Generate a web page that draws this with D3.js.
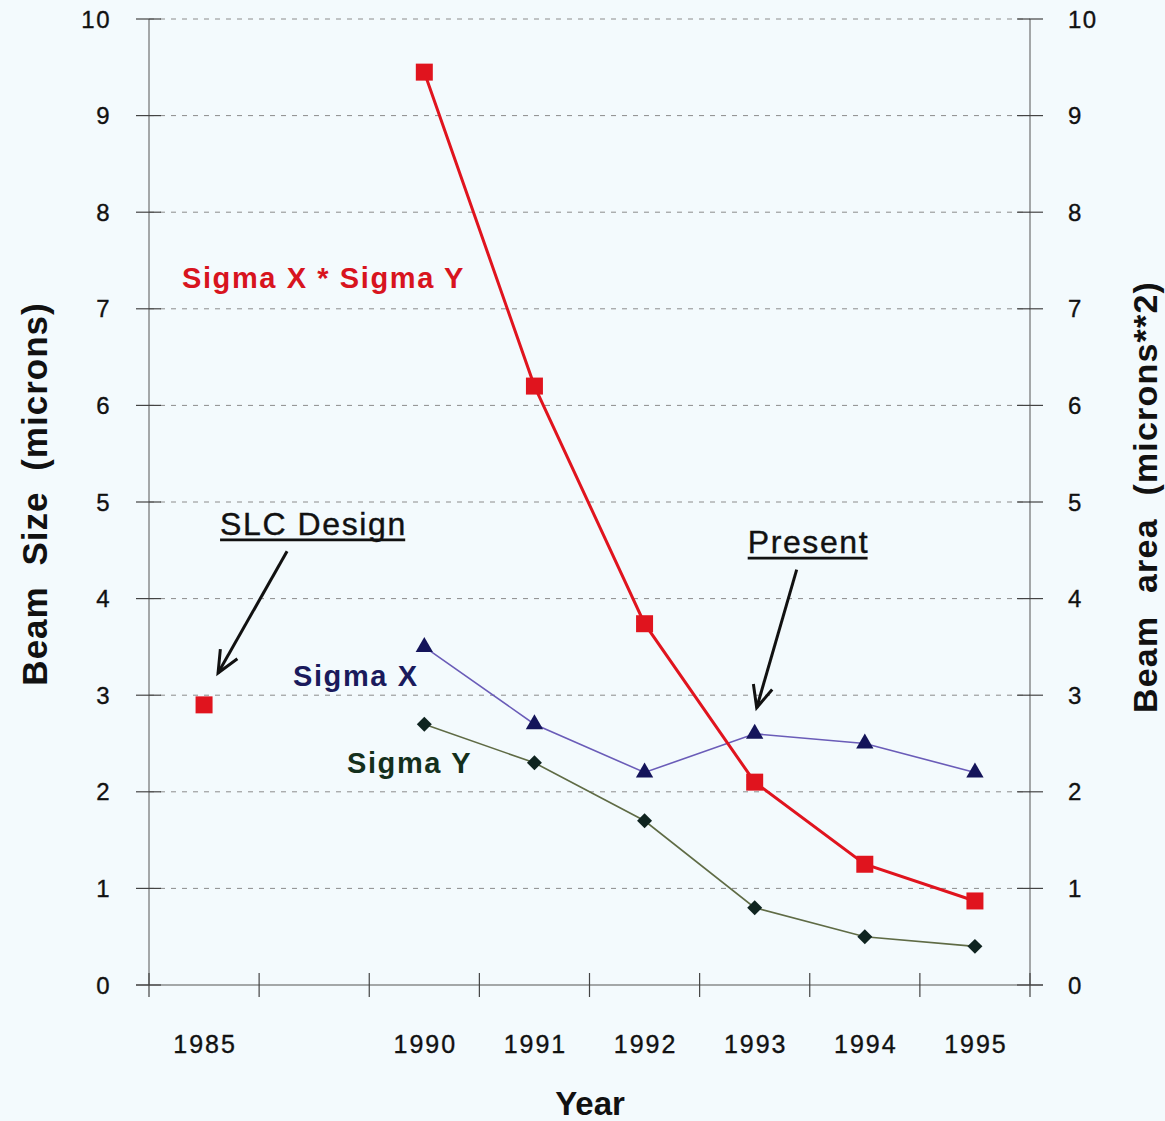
<!DOCTYPE html>
<html>
<head>
<meta charset="utf-8">
<script src="https://cdn.jsdelivr.net/npm/d3@7"></script>
<style>
  html, body { margin: 0; padding: 0; background: #f3fafd; }
  svg { display: block; }
  text { font-family: "Liberation Sans", Arial, Helvetica, sans-serif; }
</style>
</head>
<body>
<svg id="chart" width="1165" height="1121"></svg>
<script>
// Year slots along the x axis; the blank slot stands for the 1986-1989 gap.
const years = ["1985", "", "1990", "1991", "1992", "1993", "1994", "1995"];

// Beam area (microns**2), right axis
const beamArea = [2.9, null, 9.45, 6.2, 3.74, 2.1, 1.25, 0.87];
// Beam sizes (microns), left axis
const sigmaX = [null, null, 3.5, 2.7, 2.2, 2.6, 2.5, 2.2];
const sigmaY = [null, null, 2.7, 2.3, 1.7, 0.8, 0.5, 0.4];

const yTicks = [0, 1, 2, 3, 4, 5, 6, 7, 8, 9, 10];

(function draw() {
  const svg = d3.select("#chart");
  const W = 1165, H = 1121;
  const plotL = 149, plotR = 1030, plotT = 19, plotB = 985;

  svg.append("rect").attr("width", W).attr("height", H).attr("fill", "#f3fafd");

  const x = d3.scaleBand().domain(years).range([plotL, plotR]).padding(0);
  const y = d3.scaleLinear().domain([0, 10]).range([plotB, plotT]);
  const yR = d3.scaleLinear().domain([0, 10]).range([plotB, plotT]);
  const cx = c => x(c) + x.bandwidth() / 2;

  // dashed horizontal grid
  svg.append("g").selectAll("line").data(yTicks.filter(t => t > 0)).join("line")
    .attr("x1", plotL).attr("x2", plotR)
    .attr("y1", d => y(d)).attr("y2", d => y(d))
    .attr("stroke", "#8c8c8c").attr("stroke-width", 1)
    .attr("stroke-dasharray", "5,6");

  // axis frame
  const axisColor = "#555";
  svg.append("line").attr("x1", plotL).attr("x2", plotL).attr("y1", y(10)).attr("y2", y(0))
    .attr("stroke", axisColor).attr("stroke-width", 1);
  svg.append("line").attr("x1", plotR).attr("x2", plotR).attr("y1", yR(10)).attr("y2", yR(0))
    .attr("stroke", axisColor).attr("stroke-width", 1);
  svg.append("line").attr("x1", plotL - 13).attr("x2", plotR + 13).attr("y1", y(0)).attr("y2", y(0))
    .attr("stroke", axisColor).attr("stroke-width", 1.2);

  // y ticks crossing the axis lines
  svg.append("g").selectAll("line").data(yTicks).join("line")
    .attr("x1", plotL - 13).attr("x2", plotL + 12)
    .attr("y1", d => y(d)).attr("y2", d => y(d))
    .attr("stroke", "#444").attr("stroke-width", 1.2);
  svg.append("g").selectAll("line").data(yTicks).join("line")
    .attr("x1", plotR - 13).attr("x2", plotR + 13)
    .attr("y1", d => yR(d)).attr("y2", d => yR(d))
    .attr("stroke", "#444").attr("stroke-width", 1.2);

  // x ticks on band edges
  const edges = years.map(c => x(c)).concat([plotR]);
  svg.append("g").selectAll("line").data(edges).join("line")
    .attr("x1", d => d).attr("x2", d => d)
    .attr("y1", y(0) - 12).attr("y2", y(0) + 12)
    .attr("stroke", "#444").attr("stroke-width", 1.2);

  // tick labels
  const tickText = sel => sel.attr("fill", "#111").attr("stroke", "#111").attr("stroke-width", 0.35);
  svg.append("g").selectAll("text").data(yTicks).join("text")
    .attr("x", 111).attr("y", d => y(d)).attr("dy", "0.36em")
    .attr("text-anchor", "end").attr("font-size", 24).attr("letter-spacing", 1.5)
    .call(tickText).text(d => d);
  svg.append("g").selectAll("text").data(yTicks).join("text")
    .attr("x", 1068).attr("y", d => yR(d)).attr("dy", "0.36em")
    .attr("text-anchor", "start").attr("font-size", 24).attr("letter-spacing", 1.5)
    .call(tickText).text(d => d);
  svg.append("g").selectAll("text").data(years.filter(c => c !== "")).join("text")
    .attr("x", d => cx(d) + 1).attr("y", 1053)
    .attr("text-anchor", "middle").attr("font-size", 25).attr("letter-spacing", 2)
    .call(tickText).text(d => d);

  // axis titles
  svg.append("text").attr("transform", "translate(47,494) rotate(-90)")
    .attr("text-anchor", "middle").attr("font-size", 35).attr("font-weight", "bold")
    .attr("letter-spacing", 1).attr("word-spacing", 10).attr("fill", "#111")
    .text("Beam Size (microns)");
  svg.append("text").attr("transform", "translate(1157,497) rotate(-90)")
    .attr("text-anchor", "middle").attr("font-size", 34).attr("font-weight", "bold")
    .attr("letter-spacing", 1.2).attr("word-spacing", 12).attr("fill", "#111")
    .text("Beam area (microns**2)");
  svg.append("text").attr("x", 590).attr("y", 1115)
    .attr("text-anchor", "middle").attr("font-size", 33).attr("font-weight", "bold")
    .attr("fill", "#111").text("Year");

  // series lines
  const idx = d3.range(years.length);
  const line = (vals, scale) => d3.line()
    .defined(i => vals[i] != null)
    .x(i => cx(years[i]))
    .y(i => scale(vals[i]))(idx);

  svg.append("path").attr("d", line(sigmaY, y)).attr("fill", "none")
    .attr("stroke", "#5f6b45").attr("stroke-width", 1.6);
  svg.append("path").attr("d", line(sigmaX, y)).attr("fill", "none")
    .attr("stroke", "#6a5cb8").attr("stroke-width", 1.6);

  // markers for the sigma series
  svg.append("g").selectAll("path").data(idx.filter(i => sigmaY[i] != null)).join("path")
    .attr("d", d3.symbol(d3.symbolSquare, 112)())
    .attr("transform", i => `translate(${cx(years[i])},${y(sigmaY[i])}) rotate(45)`)
    .attr("fill", "#0f2420");
  svg.append("g").selectAll("path").data(idx.filter(i => sigmaX[i] != null)).join("path")
    .attr("d", d3.symbol(d3.symbolTriangle, 130)())
    .attr("transform", i => `translate(${cx(years[i])},${y(sigmaX[i])})`)
    .attr("fill", "#14145a");

  // beam area line and squares
  svg.append("path").attr("d", line(beamArea, yR)).attr("fill", "none")
    .attr("stroke", "#e0141e").attr("stroke-width", 3);
  svg.append("g").selectAll("path").data(idx.filter(i => beamArea[i] != null)).join("path")
    .attr("d", d3.symbol(d3.symbolSquare, 289)())
    .attr("transform", i => `translate(${cx(years[i])},${yR(beamArea[i])})`)
    .attr("fill", "#e0141e");

  // series labels
  const seriesLabel = (txt, lx, ly, color) => svg.append("text")
    .attr("x", lx).attr("y", ly).attr("font-size", 29).attr("font-weight", "bold")
    .attr("letter-spacing", 1.6).attr("fill", color).text(txt);
  seriesLabel("Sigma X * Sigma Y", 182, 288, "#d8141e");
  seriesLabel("Sigma X", 293, 686, "#1a1a5c");
  seriesLabel("Sigma Y", 347, 773, "#14301c");

  // underlined callouts with arrows
  function annotate(label, tx, ty, from, to) {
    const t = svg.append("text").attr("x", tx).attr("y", ty).attr("font-size", 32)
      .attr("letter-spacing", 1.6).attr("fill", "#111")
      .attr("stroke", "#111").attr("stroke-width", 0.4).text(label);
    const w = t.node().getComputedTextLength() - 1.6;
    svg.append("line").attr("x1", tx).attr("x2", tx + w).attr("y1", ty + 5).attr("y2", ty + 5)
      .attr("stroke", "#111").attr("stroke-width", 2.8);
    const [x1, y1] = from, [x2, y2] = to;
    svg.append("line").attr("x1", x1).attr("y1", y1).attr("x2", x2).attr("y2", y2)
      .attr("stroke", "#111").attr("stroke-width", 3);
    const ang = Math.atan2(y2 - y1, x2 - x1), L = 24, spread = 0.42;
    const head = [ang + Math.PI - spread, ang + Math.PI + spread]
      .map(a => [x2 + L * Math.cos(a), y2 + L * Math.sin(a)]);
    svg.append("path")
      .attr("d", `M${head[0][0]},${head[0][1]}L${x2},${y2}L${head[1][0]},${head[1][1]}`)
      .attr("fill", "none").attr("stroke", "#111").attr("stroke-width", 3)
      .attr("stroke-linejoin", "miter");
  }
  annotate("SLC Design", cx("1985") + 16, y(4.66),
    [cx("1985") + 83, y(4.49)], [cx("1985") + 14, y(3.23)]);
  annotate("Present", cx("1993") - 7, y(4.47),
    [cx("1993") + 42, y(4.3)], [cx("1993") + 2, y(2.87)]);
})();
</script>
</body>
</html>
